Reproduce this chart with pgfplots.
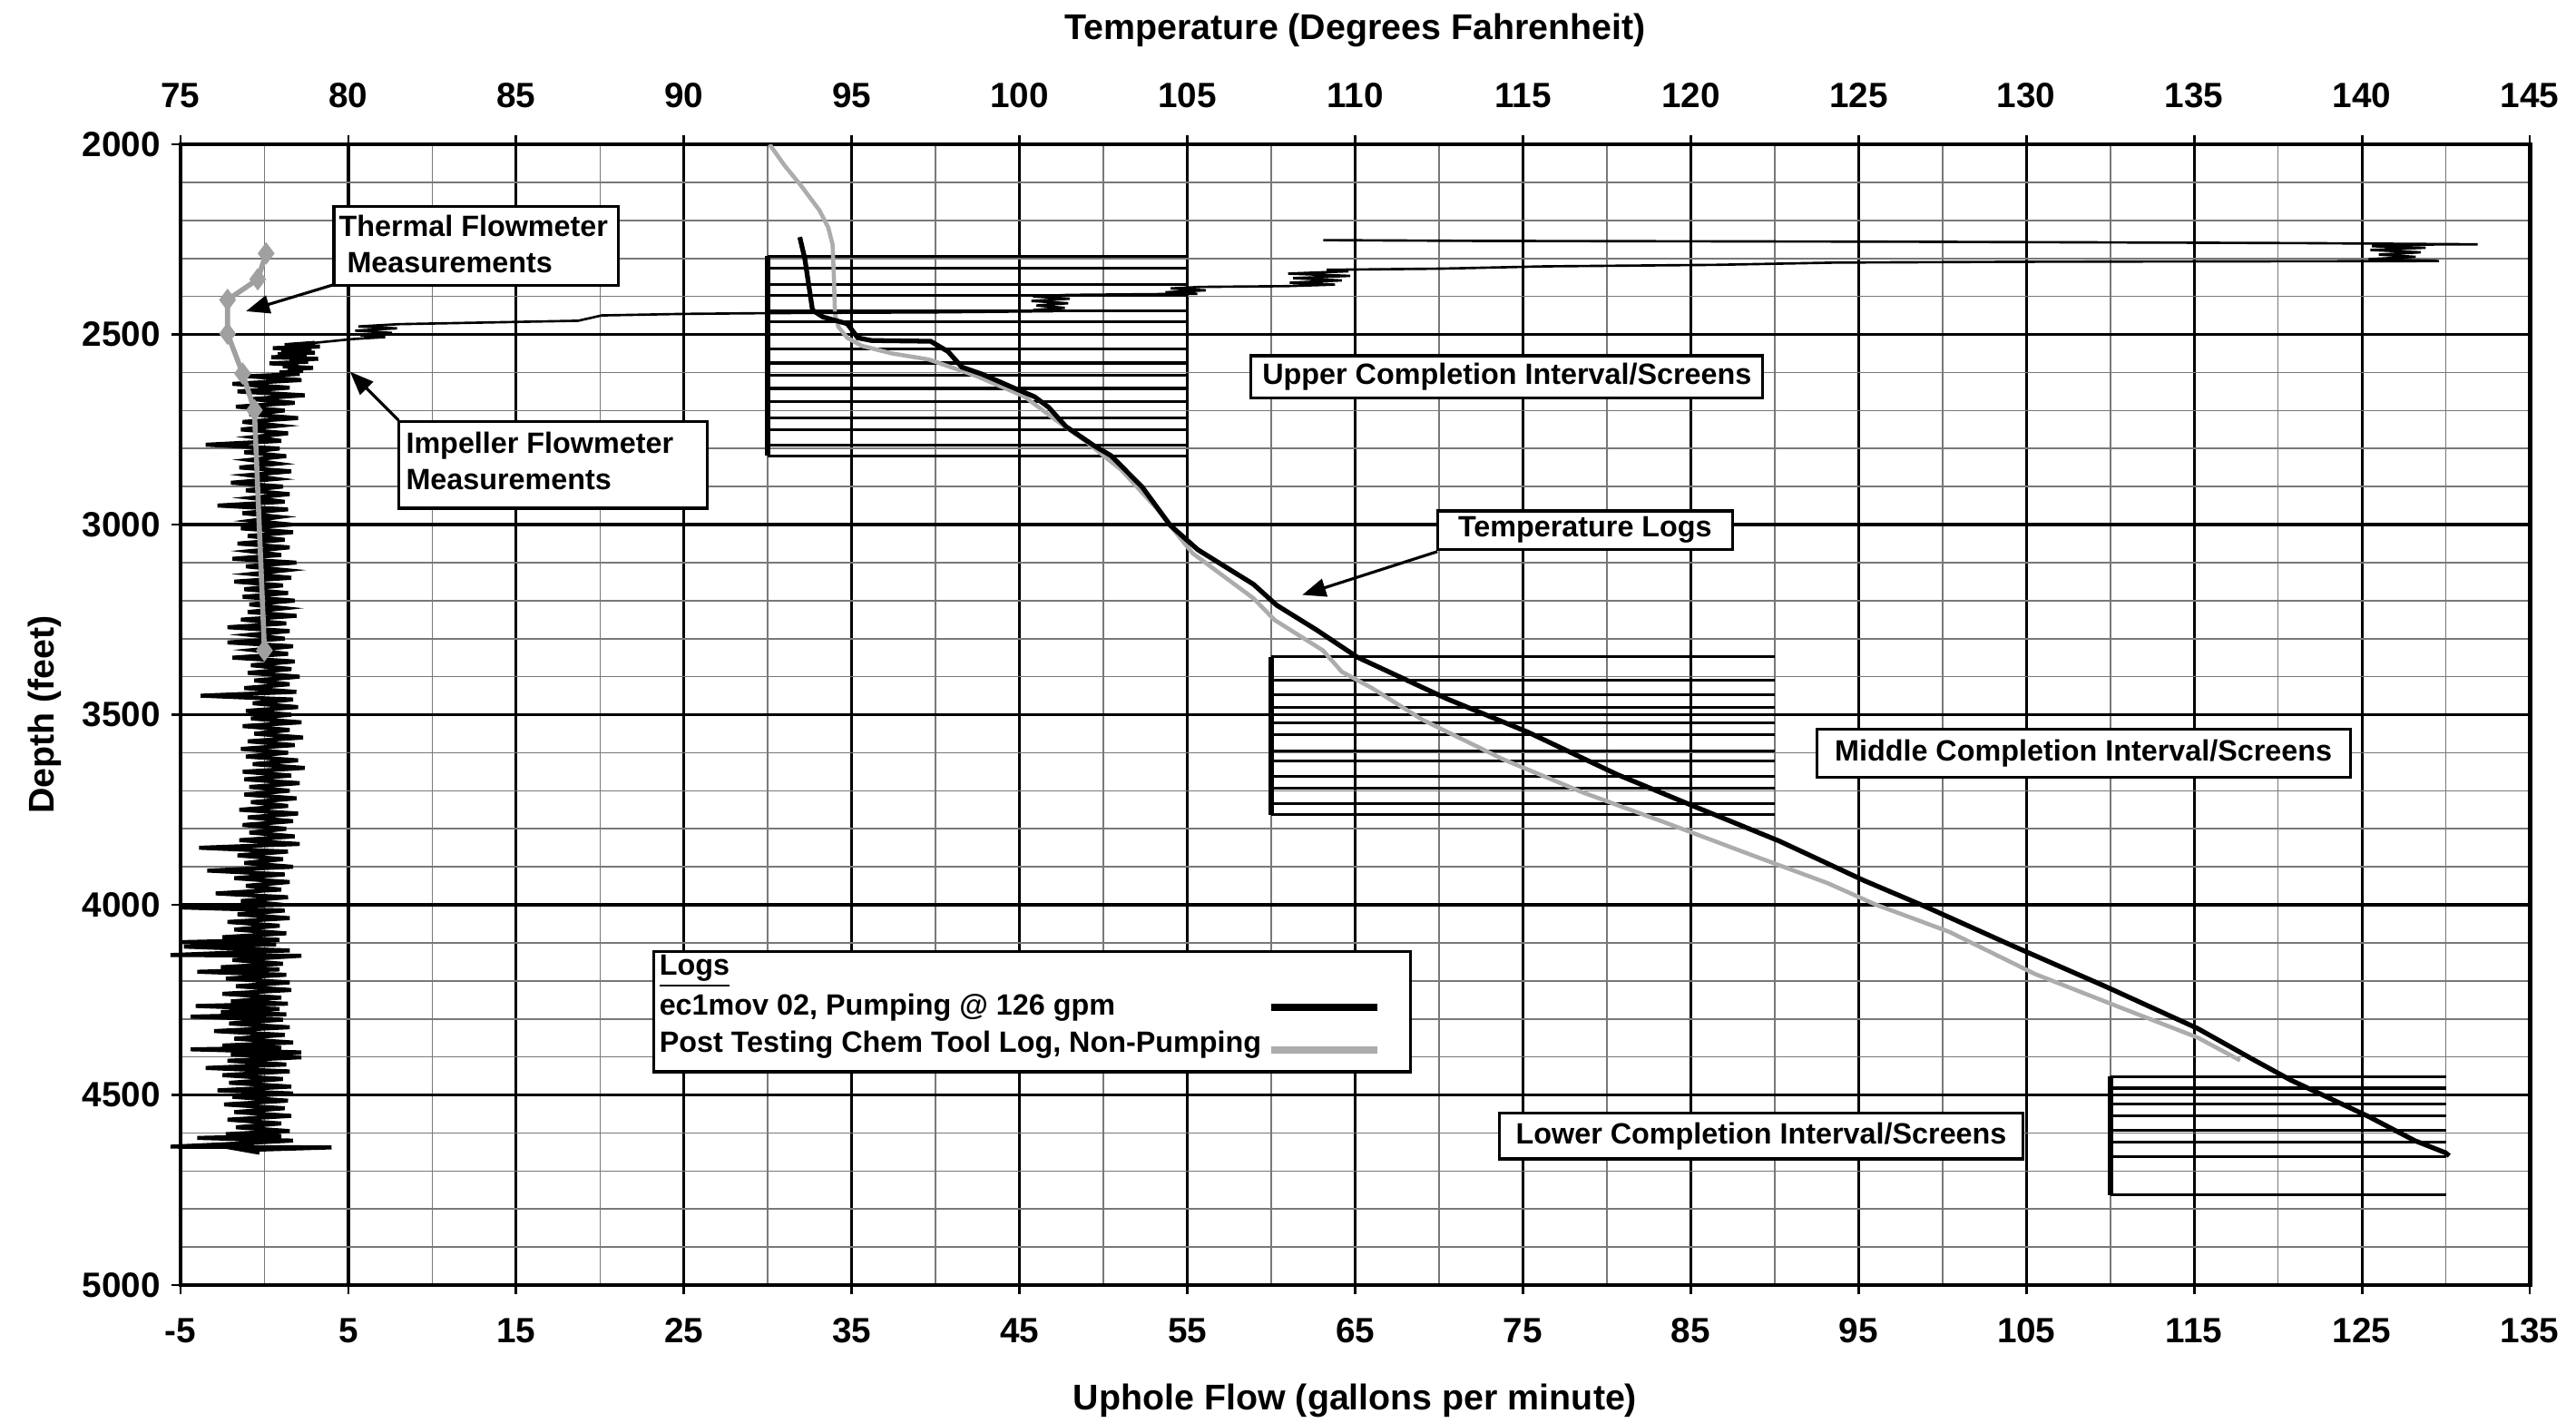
\documentclass[border=0pt]{standalone}
\usepackage{fontspec}
\setmainfont{Liberation Sans}
\usepackage{pgfplots}
\pgfplotsset{compat=1.18}
\usetikzlibrary{arrows.meta}

\definecolor{loggray}{RGB}{172,172,172}
\definecolor{gridgray}{RGB}{120,120,120}
\definecolor{thermgray}{RGB}{160,160,160}

\newcommand\ticksize{\fontsize{11}{13}\selectfont\bfseries}
\newcommand\labsize{\fontsize{11.2}{13}\selectfont\bfseries}
\newcommand\annot{\fontsize{9.2}{11.3}\selectfont\bfseries}

\pgfplotsset{
  welllog/.style={
    width=25.89cm, height=12.57cm, scale only axis,
    xmin=-5, xmax=135, ymin=2000, ymax=5000, y dir=reverse,
    /pgf/number format/1000 sep={},
    /pgf/number format/assume math mode=true,
    tick label style={font=\ticksize},
  },
}
\tikzset{
  callout/.style={draw=black, line width=0.9pt, fill=white},
  pointer/.style={-{Triangle[length=0.26cm,width=0.2cm]}, line width=0.9pt},
}

\begin{document}
\begin{tikzpicture}

% ---- flow axis: frame, grid, depth scale and the completion screens
\begin{axis}[welllog, name=A,
  axis line style={line width=1.4pt},
  xtick={-5,5,...,135}, minor xtick={0,10,...,130},
  ytick={2000,2500,...,5000}, minor ytick={2100,2200,...,4900},
  xtick pos=left, ytick pos=left,
  tick align=outside, major tick length=0.1cm, minor tick length=0pt,
  tick style={black, line width=0.8pt},
  xticklabel style={yshift=-0.14cm},
  grid=both,
  major grid style={black, line width=0.9pt},
  minor grid style={gridgray, line width=0.45pt},
  xlabel={Uphole Flow (gallons per minute)},
  ylabel={Depth (feet)},
  xlabel style={font=\labsize, at={(axis description cs:0.5,-0.101)}, anchor=center},
  ylabel style={font=\labsize, at={(axis description cs:-0.058,0.5)}, anchor=center},
  unbounded coords=jump,
]
% upper completion interval
\addplot[black, line width=1.8pt] coordinates {(30,2294) (30,2819)};
\addplot[black, line width=0.9pt] coordinates {
  (30,2294) (55,2294) (nan,nan) (30,2326) (55,2326) (nan,nan)
  (30,2368) (55,2368) (nan,nan) (30,2397) (55,2397) (nan,nan)
  (30,2438) (55,2438) (nan,nan) (30,2466) (55,2466) (nan,nan)
  (30,2500) (55,2500) (nan,nan) (30,2538) (55,2538) (nan,nan)
  (30,2575) (55,2575) (nan,nan) (30,2607) (55,2607) (nan,nan)
  (30,2642) (55,2642) (nan,nan) (30,2677) (55,2677) (nan,nan)
  (30,2719) (55,2719) (nan,nan) (30,2751) (55,2751) (nan,nan)
  (30,2792) (55,2792) (nan,nan) (30,2819) (55,2819)};
% middle completion interval
\addplot[black, line width=1.8pt] coordinates {(60,3348) (60,3763)};
\addplot[black, line width=0.9pt] coordinates {
  (60,3348) (90,3348) (nan,nan) (60,3410) (90,3410) (nan,nan)
  (60,3448) (90,3448) (nan,nan) (60,3480) (90,3480) (nan,nan)
  (60,3522) (90,3522) (nan,nan) (60,3552) (90,3552) (nan,nan)
  (60,3595) (90,3595) (nan,nan) (60,3621) (90,3621) (nan,nan)
  (60,3663) (90,3663) (nan,nan) (60,3693) (90,3693) (nan,nan)
  (60,3734) (90,3734) (nan,nan) (60,3763) (90,3763)};
% lower completion interval
\addplot[black, line width=1.8pt] coordinates {(110,4451) (110,4763)};
\addplot[black, line width=0.9pt] coordinates {
  (110,4453) (130,4453) (nan,nan) (110,4482) (130,4482) (nan,nan)
  (110,4524) (130,4524) (nan,nan) (110,4554) (130,4554) (nan,nan)
  (110,4593) (130,4593) (nan,nan) (110,4624) (130,4624) (nan,nan)
  (110,4663) (130,4663) (nan,nan) (110,4763) (130,4763)};
\end{axis}

% ---- temperature axis (top) with the two temperature logs
\begin{axis}[welllog,
  xmin=75, xmax=145,
  axis line style={line width=1.4pt},
  xtick={75,80,...,145}, ytick=\empty,
  xtick pos=right, xticklabel pos=right,
  tick align=outside, major tick length=0.1cm,
  tick style={black, line width=0.8pt},
  xticklabel style={yshift=0.18cm},
  xlabel={Temperature (Degrees Fahrenheit)},
  xlabel style={font=\labsize, at={(axis description cs:0.5,1.1002)}, anchor=center},
]
% Post Testing Chem Tool Log, Non-Pumping
\addplot[loggray, line width=1.3pt] coordinates {
  (92.55,2000) (93.0,2056) (93.5,2110) (94.04,2174) (94.3,2219)
  (94.43,2264) (94.47,2355) (94.5,2446) (94.6,2480) (94.87,2509)
  (95.3,2530) (96.2,2550) (97.3,2566) (98.7,2609) (100.14,2663)
  (100.97,2718) (102.0,2783) (103.03,2856) (104.07,2956) (105.15,3075)
  (106.97,3194) (107.6,3251) (109.04,3331) (109.6,3387) (110.5,3430)
  (112.0,3513) (114.4,3617) (116.8,3705) (119.25,3784) (121.66,3864)
  (124.08,3943) (125.5,3999) (127.7,4071) (130.26,4182) (132.8,4270)
  (135.1,4349) (136.37,4409)};
% ec1mov 02, Pumping @ 126 gpm
\addplot[black, line width=1.5pt] coordinates {
  (93.45,2244) (93.6,2300) (93.83,2436) (94.14,2454) (94.87,2472)
  (95.18,2509) (95.59,2516) (97.35,2518) (97.87,2545) (98.28,2586)
  (98.9,2605) (99.73,2637) (100.45,2664) (100.87,2692) (101.38,2742)
  (102.21,2792) (102.73,2819) (103.66,2902) (104.49,3002) (105.31,3066)
  (106.97,3157) (107.66,3212) (108.83,3276) (110.07,3349) (112.73,3458)
  (115.15,3546) (117.8,3657) (120.21,3745) (122.63,3832) (125.16,3936)
  (127.0,4005) (129.57,4107) (132.34,4214) (135.1,4325) (136.72,4405)
  (137.88,4461) (140.18,4556) (141.57,4620) (142.49,4652) (142.6,4660)};
\end{axis}

% ---- flowmeter traces, callouts and legend
\begin{axis}[welllog, hide axis, clip=false]
% impeller flowmeter
\addplot[black, line width=0.75pt] coordinates {
  (63.1,2252) (72,2254) (84,2255) (96,2256) (110,2258) (122,2260) (131.9,2263)
  (127,2264) (125.6,2268) (128.8,2272) (125.5,2278) (128.5,2284) (126,2290)
  (128.2,2296) (125.4,2302) (129.6,2307) (115,2308) (104.2,2309) (93.7,2311)
  (86.5,2317) (76.3,2321) (70.1,2327) (63.3,2330) (64.6,2334) (61.0,2340)
  (64.7,2346) (61.3,2352) (64.2,2358) (61.1,2364) (63.8,2369) (60.9,2373)
  (55.8,2375) (54.0,2379) (56.1,2384) (53.7,2389) (55.6,2393) (47.9,2396)
  (45.8,2400) (48.0,2406) (45.7,2412) (47.9,2418) (46.0,2424) (47.7,2430)
  (45.8,2436) (47.0,2439) (40,2442) (30,2444) (25,2446) (20.1,2450)
  (18.7,2464) (8.0,2473) (5.6,2479) (7.9,2484) (5.4,2490) (7.6,2496)
  (5.7,2502) (7.2,2507) (5.3,2512) (3.0,2522)};
\addplot[black, line width=1.25pt] coordinates {
  (3.0,2522)
  (1.2,2528) (3.3,2532) (0.5,2536) (2.8,2540) (1.0,2544) (3.0,2548)
  (0.8,2552) (2.5,2556) (0.4,2560) (3.2,2564) (1.5,2568) (2.6,2572)
  (0.3,2576) (2.0,2580) (1.1,2584) (2.9,2588) (1.4,2592) (2.3,2596)
  (0.9,2600) (2.1,2604)
  (-1.0,2610) (2.2,2620) (-1.9,2630) (1.5,2640) (-1.6,2650) (2.4,2660)
  (-0.8,2670) (1.8,2680) (-1.7,2690) (1.2,2700) (-0.9,2710) (2.0,2720)
  (-1.3,2730) (0.9,2740) (-1.4,2750) (1.4,2760) (-0.7,2770) (1.0,2780)
  (-3.5,2790) (0.9,2800) (-1.2,2810) (1.3,2820) (-0.9,2830) (0.8,2840)
  (-1.5,2850) (1.6,2860) (-1.0,2870) (0.7,2880) (-2.0,2890) (1.1,2900)
  (-1.1,2910) (1.5,2920) (-0.8,2930) (1.2,2940) (-2.8,2950) (1.4,2960)
  (-1.3,2970) (0.9,2980) (-0.8,2990) (1.6,3000) (-1.4,3010) (1.7,3020)
  (-1.0,3030) (1.2,3040) (-1.6,3050) (1.5,3060) (-0.9,3070) (1.0,3080)
  (-1.9,3090) (1.9,3100) (-1.1,3110) (1.3,3120) (-0.8,3130) (1.6,3140)
  (-1.8,3150) (1.1,3160) (-1.2,3170) (1.4,3180) (-1.3,3190) (1.8,3200)
  (-0.9,3210) (1.2,3220) (-1.0,3230) (1.9,3240) (-1.4,3250) (1.3,3260)
  (-2.2,3270) (1.5,3280) (-0.9,3290) (1.2,3300) (-2.2,3310) (1.7,3320)
  (-0.7,3330) (1.4,3340) (-1.9,3350) (1.8,3360) (-0.8,3370) (1.6,3380)
  (-1.0,3390) (2.1,3400) (-0.6,3410) (1.5,3420) (-1.2,3430) (1.9,3440)
  (-3.8,3450) (1.7,3460) (-0.7,3470) (2.0,3480) (-1.1,3490) (1.6,3500)
  (-0.8,3510) (2.2,3520) (-1.3,3530) (1.5,3540) (-0.6,3550) (2.3,3560)
  (-1.0,3570) (1.8,3580) (-1.4,3590) (1.4,3600) (-1.1,3610) (2.0,3620)
  (-0.7,3630) (2.4,3640) (-1.3,3650) (1.6,3660) (-1.2,3670) (2.1,3680)
  (-0.9,3690) (1.5,3700) (-1.2,3710) (1.9,3720) (-0.8,3730) (1.4,3740)
  (-1.5,3750) (2.0,3760) (-1.0,3770) (1.7,3780) (-1.3,3790) (1.3,3800)
  (-0.9,3810) (1.8,3820) (-1.5,3830) (2.1,3840) (-3.9,3850) (1.4,3860)
  (-1.6,3870) (1.1,3880) (-1.2,3890) (1.7,3900) (-3.4,3910) (1.2,3920)
  (-1.8,3930) (1.5,3940) (-1.1,3950) (1.0,3960) (-2.9,3970) (1.4,3980)
  (-1.4,3990) (1.1,4000) (-5.0,4007) (1.2,4015) (-1.6,4025) (1.5,4035)
  (-2.2,4045) (0.9,4055) (-1.8,4065) (1.3,4075) (-2.5,4085) (0.9,4092)
  (-4.9,4098) (0.7,4104) (-4.8,4110) (1.5,4120) (-5.6,4132) (2.2,4134)
  (-1.9,4145) (1.1,4155) (-2.6,4164) (0.9,4170) (-4.0,4176) (1.3,4184)
  (-2.3,4194) (1.5,4204) (-1.7,4214) (1.6,4224) (-2.5,4234) (1.0,4244)
  (-2.0,4254) (1.4,4260) (-4.1,4266) (0.9,4274) (-2.6,4282) (1.3,4288)
  (-4.4,4294) (1.1,4302) (-2.1,4312) (1.5,4322) (-3.0,4332) (1.2,4342)
  (-1.8,4352) (1.7,4362) (-2.5,4370) (1.0,4376) (-4.4,4380) (2.2,4388)
  (-2.0,4394) (2.2,4401) (-2.2,4410) (1.3,4420) (-3.5,4429) (1.5,4438)
  (-2.5,4448) (1.1,4458) (-2.1,4468) (1.6,4478) (-2.8,4488) (1.7,4496)
  (-1.9,4505) (1.4,4515) (-2.4,4525) (1.2,4535) (-1.8,4545) (1.6,4555)
  (-2.2,4565) (1.0,4575) (-1.7,4585) (1.5,4595) (-2.3,4603) (1.0,4608)
  (-4.0,4613) (1.7,4620) (-2.6,4630) (-5.6,4636) (4.0,4638) (-1.2,4645)
  (-0.3,4652)};
% thermal flowmeter
\addplot[thermgray, line width=1.6pt, mark=diamond*, mark size=3.2pt,
  mark options={fill=thermgray, draw=thermgray, line width=0.4pt}] coordinates {
  (0.1,2287) (-0.4,2355) (-2.2,2409) (-2.2,2498) (-1.3,2603) (-0.6,2699) (0.0,3331)};

% callouts
\draw[callout] (axis cs:4.14,2163) rectangle (axis cs:21.1,2371);
\node[anchor=west, inner sep=0pt, align=left, font=\annot] at (axis cs:4.4,2262)
  {Thermal Flowmeter\\\ Measurements};
\draw[pointer] (axis cs:4.14,2369) -- (axis cs:-1.1,2439);

\draw[callout] (axis cs:8.0,2729) rectangle (axis cs:26.4,2957);
\node[anchor=west, inner sep=0pt, align=left, font=\annot] at (axis cs:8.4,2833)
  {Impeller Flowmeter\\Measurements};
\draw[pointer] (axis cs:8.0,2726) -- (axis cs:5.1,2598);

\draw[callout] (axis cs:58.8,2556) rectangle (axis cs:89.3,2668);
\node[font=\annot, inner sep=0pt] at (axis cs:74.05,2612) {Upper Completion Interval/Screens};

\draw[callout] (axis cs:69.9,2964) rectangle (axis cs:87.5,3065);
\node[font=\annot, inner sep=0pt] at (axis cs:78.7,3014) {Temperature Logs};
\draw[pointer] (axis cs:69.9,3071) -- (axis cs:61.85,3185);

\draw[callout] (axis cs:92.5,3539) rectangle (axis cs:124.3,3665);
\node[font=\annot, inner sep=0pt] at (axis cs:108.4,3602) {Middle Completion Interval/Screens};

\draw[callout] (axis cs:73.6,4548) rectangle (axis cs:104.8,4668);
\node[font=\annot, inner sep=0pt] at (axis cs:89.2,4608) {Lower Completion Interval/Screens};

% legend
\draw[callout] (axis cs:23.2,4122) rectangle (axis cs:68.3,4439);
\node[anchor=west, inner sep=0pt, font=\annot] at (axis cs:23.5,4174) {\underline{Logs}};
\node[anchor=west, inner sep=0pt, font=\annot] at (axis cs:23.5,4270) {ec1mov 02, Pumping @ 126 gpm};
\node[anchor=west, inner sep=0pt, font=\annot] at (axis cs:23.5,4369) {Post Testing Chem Tool Log, Non-Pumping};
\draw[black, line width=2.2pt] (axis cs:60.0,4270) -- (axis cs:66.3,4270);
\draw[loggray, line width=2.2pt] (axis cs:60.0,4382) -- (axis cs:66.3,4382);
\end{axis}

\pgfresetboundingbox
\path ([shift={(-1.99cm,-1.51cm)}]A.south west) rectangle ([shift={(0.51cm,1.59cm)}]A.north east);
\end{tikzpicture}
\end{document}
